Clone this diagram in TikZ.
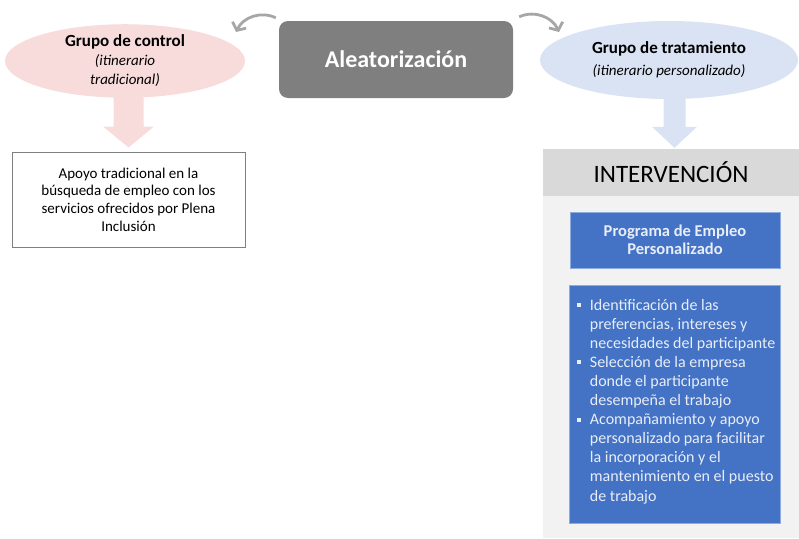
\documentclass[tikz,border=0pt]{standalone}
\usepackage{fontspec}
\setmainfont{Carlito}
\usetikzlibrary{positioning,shapes.geometric,arrows.meta,calc}
\definecolor{pinkfill}{RGB}{248,220,220}
\definecolor{bluefill}{RGB}{218,227,243}
\definecolor{aleagray}{RGB}{127,127,127}
\definecolor{headgray}{RGB}{217,217,217}
\definecolor{panelgray}{RGB}{242,242,242}
\definecolor{progblue}{RGB}{68,114,196}
\definecolor{progline}{RGB}{143,170,220}
\definecolor{progtext}{RGB}{232,238,248}
\definecolor{curvegray}{RGB}{166,166,166}
\newcommand{\sqitem}{\makebox[0pt][r]{\rule[3pt]{4pt}{4pt}\hspace{9pt}}}
\newcommand{\grptitle}[1]{{\fontsize{17}{19}\selectfont\upshape\bfseries #1}}
\tikzset{grp/.style={ellipse,inner sep=0pt,align=center,font=\fontsize{15}{19}\selectfont\itshape},
	 alea/.style={rectangle,rounded corners=9pt,fill=aleagray,text=white,minimum width=234pt,minimum height=77pt,font=\fontsize{24}{26}\selectfont\bfseries},
	 plainbox/.style={rectangle,draw=aleagray,line width=1pt,align=center,minimum width=233pt,minimum height=95pt,font=\fontsize{15}{17.7}\selectfont},
	 headbox/.style={rectangle,fill=headgray,minimum width=256pt,minimum height=47pt,font=\fontsize{25}{28}\selectfont},
	 panelbox/.style={rectangle,fill=panelgray,minimum width=256pt,minimum height=342pt,inner sep=0pt},
	 progbox/.style={rectangle,fill=progblue,draw=progline,line width=0.6pt,text=progtext,align=center,font=\fontsize{16.5}{18.5}\selectfont\bfseries},
	 itemtext/.style={inner sep=0pt,text=progtext,align=left,font=\fontsize{16}{19.1}\selectfont},
	 randarrow/.style={draw=curvegray,line width=2.8pt,-{Straight Barb[length=6pt,width=15pt]}},
	 node distance = 1
	 }

\begin{document}
\begin{tikzpicture}[x=1pt,y=-1pt]
        \useasboundingbox (0,0) rectangle (799,538);
        \node[alea] (alea) at (396,59.5) {Aleatorización};
        \node[grp,fill=pinkfill,minimum width=240pt,minimum height=72pt] (ctrl) at (125,61)
             {\grptitle{Grupo de control}\\(itinerario\\tradicional)};
        \node[grp,fill=bluefill,minimum width=258pt,minimum height=78pt] (treat) at (669,60)
             {\grptitle{Grupo de tratamiento}\\[3pt](itinerario personalizado)};
        \node[plainbox] (apoyo) at (128.5,199.5)
             {Apoyo tradicional en la\\búsqueda de empleo con los\\servicios ofrecidos por Plena\\Inclusión};
        \node[headbox] (interv) at (671,172.5) {INTERVENCIÓN};
        \node[panelbox] (panel) [below=0pt of interv] {};
        \node[progbox,minimum width=210pt,minimum height=56pt] (prog) at (675,240) {Programa de Empleo\\Personalizado};
        \node[progbox,minimum width=211pt,minimum height=238pt] (list) at (674.5,404) {};
        \node[itemtext] (items) [below right=14pt and 21pt of list.north west]
             {\sqitem Identificación de las\\preferencias, intereses y\\necesidades del participante\\
              \sqitem Selección de la empresa\\donde el participante\\desempeña el trabajo\\
              \sqitem Acompañamiento y apoyo\\personalizado para facilitar\\la incorporación y el\\
              mantenimiento en el puesto\\de trabajo};
        % free ends of the curved arrows
        \coordinate (cl) at (236,32);
        \coordinate (cr) at (559,32);
        \draw[randarrow] ([shift={(-3,-3)}]alea.north west) to[bend right=45] (cl);
        \draw[randarrow] ([shift={(6,-4)}]alea.north east) to[bend left=45] (cr);
        % block arrows
        \fill[pinkfill] ($(apoyo.north)+(-15,-58)$) -- ($(apoyo.north)+(15,-58)$) -- ($(apoyo.north)+(15,-25)$)
             -- ($(apoyo.north)+(25.5,-25)$) -- ($(apoyo.north)+(0,-4)$) -- ($(apoyo.north)+(-25.5,-25)$)
             -- ($(apoyo.north)+(-15,-25)$) -- cycle;
        \fill[bluefill] ($(interv.north)+(-7.5,-52)$) -- ($(interv.north)+(14.5,-52)$) -- ($(interv.north)+(14.5,-22)$)
             -- ($(interv.north)+(26,-22)$) -- ($(interv.north)+(3.5,-1)$) -- ($(interv.north)+(-19,-22)$)
             -- ($(interv.north)+(-7.5,-22)$) -- cycle;
     \end{tikzpicture}
\end{document}
